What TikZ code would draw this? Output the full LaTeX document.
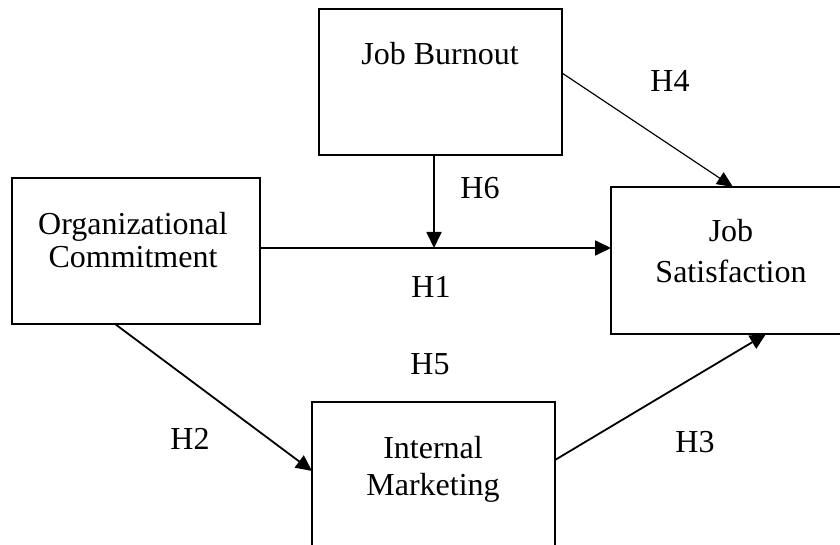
\documentclass[tikz,border=0pt]{standalone}
\usepackage{fontspec}
\setmainfont{Liberation Serif}
\usetikzlibrary{arrows.meta}
\begin{document}
\begin{tikzpicture}[x=1pt,y=-1pt,
  box/.style={draw,line width=1.8pt,rectangle,inner sep=0pt},
  txt/.style={anchor=base,inner sep=0pt,font=\fontsize{32}{36}\selectfont},
  conn/.style={line width=1.8pt,-{Triangle[length=16pt,width=15pt]}},
  thin/.style={line width=1.2pt,-{Triangle[length=16pt,width=14pt]}}]
\useasboundingbox (0,0) rectangle (840,545);
\clip (0,0) rectangle (840,545);
\fill[white] (0,0) rectangle (840,545);
% boxes
\node[box,minimum width=243pt,minimum height=146pt] (jb) at (440.5,82) {};
\node[box,minimum width=248pt,minimum height=146pt] (oc) at (136,251) {};
\node[box,minimum width=242pt,minimum height=147pt] (js) at (732,260.5) {};
\node[box,minimum width=243pt,minimum height=146pt] (im) at (433.5,475) {};
% texts
\node[txt] (tjb) at (440,65) {Job Burnout};
\node[txt] (toc1) at (133,235) {Organizational};
\node[txt] (toc2) at (133,268) {Commitment};
\node[txt] (tjs1) at (731,242) {Job};
\node[txt] (tjs2) at (731,282) {Satisfaction};
\node[txt] (tim1) at (433,458) {Internal};
\node[txt] (tim2) at (433,495) {Marketing};
% labels
\node[txt] (h4) at (670,92) {H4};
\node[txt] (h6) at (480,199) {H6};
\node[txt] (h1) at (431,298) {H1};
\node[txt] (h5) at (430,374) {H5};
\node[txt] (h2) at (190,449) {H2};
\node[txt] (h3) at (695,452) {H3};
% connector anchors
\coordinate (jbR) at (562,73);
\coordinate (jsT) at (733,187);
\coordinate (jbB) at (434,155);
\coordinate (mid) at (434,248);
\coordinate (ocR) at (260,248);
\coordinate (jsL) at (611,248);
\coordinate (ocB) at (115,324);
\coordinate (imL) at (312,471);
\coordinate (imR) at (555,460);
\coordinate (jsB) at (766,334);
% connectors
\draw[thin] (jbR) -- (jsT);
\draw[conn] (jbB) -- (mid);
\draw[conn] (ocR) -- (jsL);
\draw[conn] (ocB) -- (imL);
\draw[conn] (imR) -- (jsB);
\end{tikzpicture}
\end{document}
